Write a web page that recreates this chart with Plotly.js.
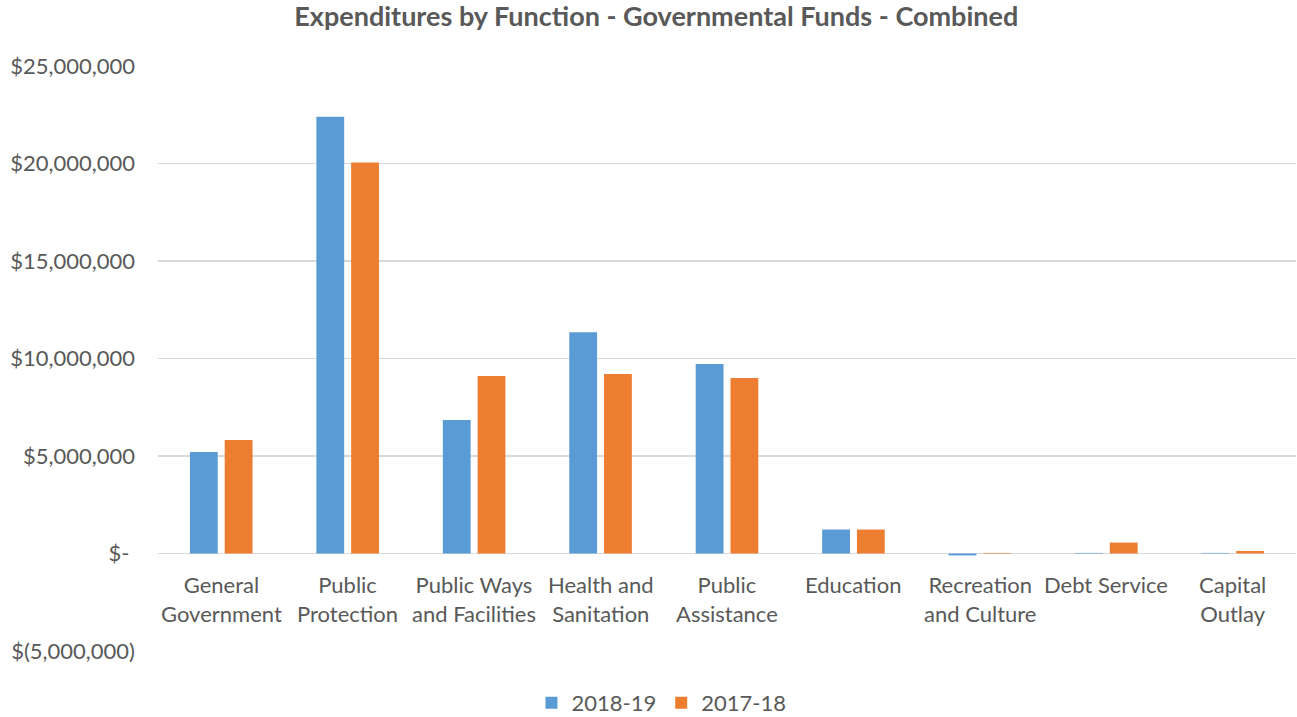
<!DOCTYPE html>
<html><head><meta charset="utf-8">
<script src="https://cdn.plot.ly/plotly-3.0.1.min.js"></script>
<style>html,body{margin:0;padding:0;background:#fff}#chart{width:1297px;height:717px}</style>
</head><body><div id="chart"></div>
<script>
const categories = ["General<br>Government","Public<br>Protection","Public Ways<br>and Facilities","Health and<br>Sanitation","Public<br>Assistance","Education","Recreation<br>and Culture","Debt Service","Capital<br>Outlay"];
const fy2019 = [5200000, 22400000, 6850000, 11350000, 9720000, 1230000, -100000, 30000, 30000];
const fy2018 = [5820000, 20050000, 9100000, 9200000, 9000000, 1230000, 30000, 560000, 130000];
const tickVals = [-5000000, 0, 5000000, 10000000, 15000000, 20000000, 25000000];
const tickText = ["$(5,000,000)", "$- ", "$5,000,000", "$10,000,000", "$15,000,000", "$20,000,000", "$25,000,000"];

const font = "Lato, 'Open Sans', sans-serif";
const data = [
  {type:"bar", name:"2018-19", x:categories, y:fy2019, marker:{color:"#5b9bd5"}},
  {type:"bar", name:"2017-18", x:categories, y:fy2018, marker:{color:"#ed7d31"}}
];
const annotations = categories.map(c => ({
  x:c, y:0, xref:"x", yref:"y", text:c, showarrow:false,
  xanchor:"center", yanchor:"top", yshift:-15,
  font:{family:font, size:22, color:"#595959"}
}));
const layout = {
  width:1297, height:717,
  margin:{l:158, r:1, t:66, b:66},
  paper_bgcolor:"#fff", plot_bgcolor:"#fff",
  font:{family:font, size:22, color:"#595959"},
  title:{text:"<b>Expenditures by Function - Governmental Funds - Combined</b>", font:{family:font, size:27, color:"#595959"}, x:0.506, xanchor:"center", y:0.977, yanchor:"middle"},
  barmode:"group", bargap:0.45, bargroupgap:0.2,
  xaxis:{showgrid:false, showline:false, ticks:"", showticklabels:false, fixedrange:true},
  yaxis:{range:[-5000000, 25000000], tickvals:tickVals, ticktext:tickText, showgrid:true, gridcolor:"#d9d9d9", gridwidth:1.5, zeroline:true, zerolinecolor:"#d9d9d9", zerolinewidth:1.5, showline:false, ticks:"", ticklabelstandoff:22, tickfont:{size:22, color:"#595959"}},
  annotations:annotations,
  showlegend:true,
  legend:{orientation:"h", xref:"container", yref:"container", x:0.51, xanchor:"center", y:0.0195, yanchor:"middle", font:{size:22, color:"#595959"}, itemwidth:30, traceorder:"normal"}
};
Plotly.newPlot("chart", data, layout, {displayModeBar:false, staticPlot:true});
</script></body></html>
